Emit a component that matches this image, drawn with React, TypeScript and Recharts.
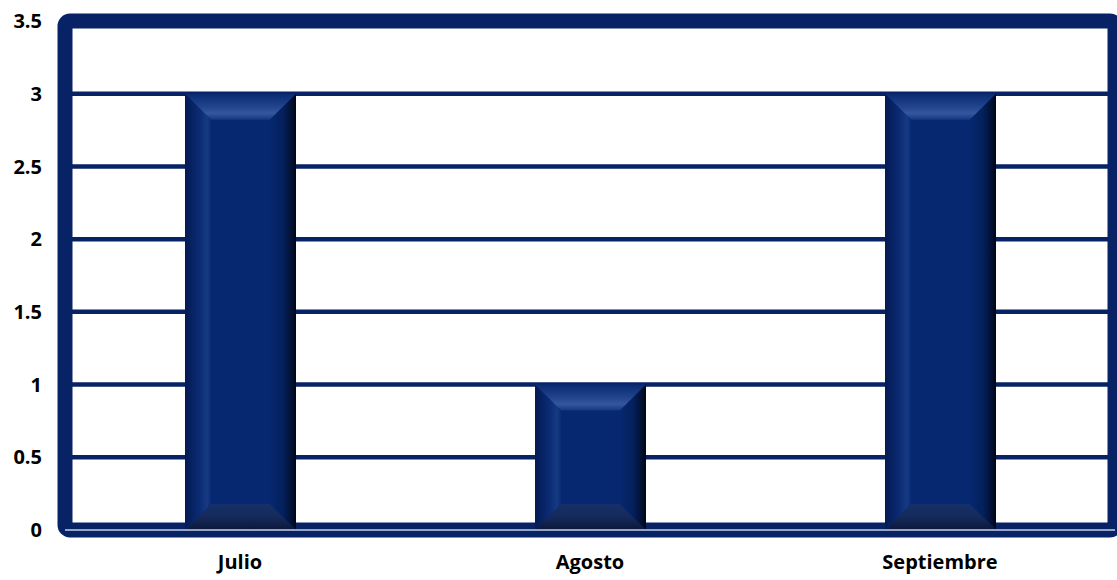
import { BarChart, Bar, XAxis, YAxis, CartesianGrid, ReferenceArea } from "recharts";

const months = ["Julio", "Agosto", "Septiembre"];
const values = [3, 1, 3];
const yTicks = [0, 0.5, 1, 1.5, 2, 2.5, 3, 3.5];

const data = months.map((month, i) => ({ month, value: values[i] }));

const NAVY = "#072265";
const tickStyle = { fill: "#000", fontSize: 20, fontWeight: 700, fontFamily: "Open Sans" };

// beveled bar, like the old office "bevel" effect
function BevelBar(props: any) {
  const { x, y, width: w, height: h } = props;
  if (!h || h <= 0) return null;
  const b = Math.min(26, w / 3, h / 3);
  return (
    <g>
      <rect x={x} y={y} width={w} height={h} fill="#062870" />
      <polygon
        points={`${x},${y} ${x + w},${y} ${x + w - b},${y + b} ${x + b},${y + b}`}
        fill="url(#bevTop)"
      />
      <polygon
        points={`${x},${y + h} ${x + w},${y + h} ${x + w - b},${y + h - b} ${x + b},${y + h - b}`}
        fill="url(#bevBot)"
      />
      <polygon
        points={`${x},${y} ${x + b},${y + b} ${x + b},${y + h - b} ${x},${y + h}`}
        fill="url(#bevLeft)"
      />
      <polygon
        points={`${x + w},${y} ${x + w - b},${y + b} ${x + w - b},${y + h - b} ${x + w},${y + h}`}
        fill="url(#bevRight)"
      />
    </g>
  );
}

function Frame(props: any) {
  const { x, y, width, height } = props;
  return (
    <rect x={x} y={y} width={width} height={height} rx={5} fill="none" stroke={NAVY} strokeWidth={15} />
  );
}

export default function App() {
  return (
    <div style={{ width: 1117, height: 580, background: "#fff" }}>
      <style>{`body{margin:0}`}</style>
      <BarChart width={1117} height={580} data={data} margin={{ top: 21, right: 2, left: 0, bottom: 0 }}>
        <defs>
          <linearGradient id="bevTop" x1="0" y1="0" x2="0" y2="1">
            <stop offset="0%" stopColor="#082a72" />
            <stop offset="55%" stopColor="#24478f" />
            <stop offset="75%" stopColor="#34579f" />
            <stop offset="100%" stopColor="#143782" />
          </linearGradient>
          <linearGradient id="bevBot" x1="0" y1="0" x2="0" y2="1">
            <stop offset="0%" stopColor="#17306a" />
            <stop offset="50%" stopColor="#152a5a" />
            <stop offset="100%" stopColor="#0b173a" />
          </linearGradient>
          <linearGradient id="bevLeft" x1="0" y1="0" x2="1" y2="0">
            <stop offset="0%" stopColor="#041a52" />
            <stop offset="55%" stopColor="#0a2b74" />
            <stop offset="85%" stopColor="#173a84" />
            <stop offset="100%" stopColor="#0a2b74" />
          </linearGradient>
          <linearGradient id="bevRight" x1="0" y1="0" x2="1" y2="0">
            <stop offset="0%" stopColor="#062870" />
            <stop offset="50%" stopColor="#04205c" />
            <stop offset="85%" stopColor="#020f30" />
            <stop offset="100%" stopColor="#000611" />
          </linearGradient>
        </defs>
        <CartesianGrid vertical={false} stroke={NAVY} strokeWidth={4.5} strokeOpacity={1} />
        <ReferenceArea y1={0} y2={3.5} ifOverflow="visible" shape={Frame} />
        <XAxis
          dataKey="month"
          height={50}
          tickLine={false}
          tickSize={0}
          tickMargin={25}
          axisLine={{ stroke: "#c9d2e4", strokeWidth: 1.5 }}
          tick={tickStyle}
        />
        <YAxis
          width={65}
          domain={[0, 3.5]}
          ticks={yTicks}
          axisLine={false}
          tickLine={false}
          tickSize={0}
          tickMargin={23}
          tick={tickStyle}
        />
        <Bar dataKey="value" barSize={111} shape={BevelBar} isAnimationActive={false} />
      </BarChart>
    </div>
  );
}
